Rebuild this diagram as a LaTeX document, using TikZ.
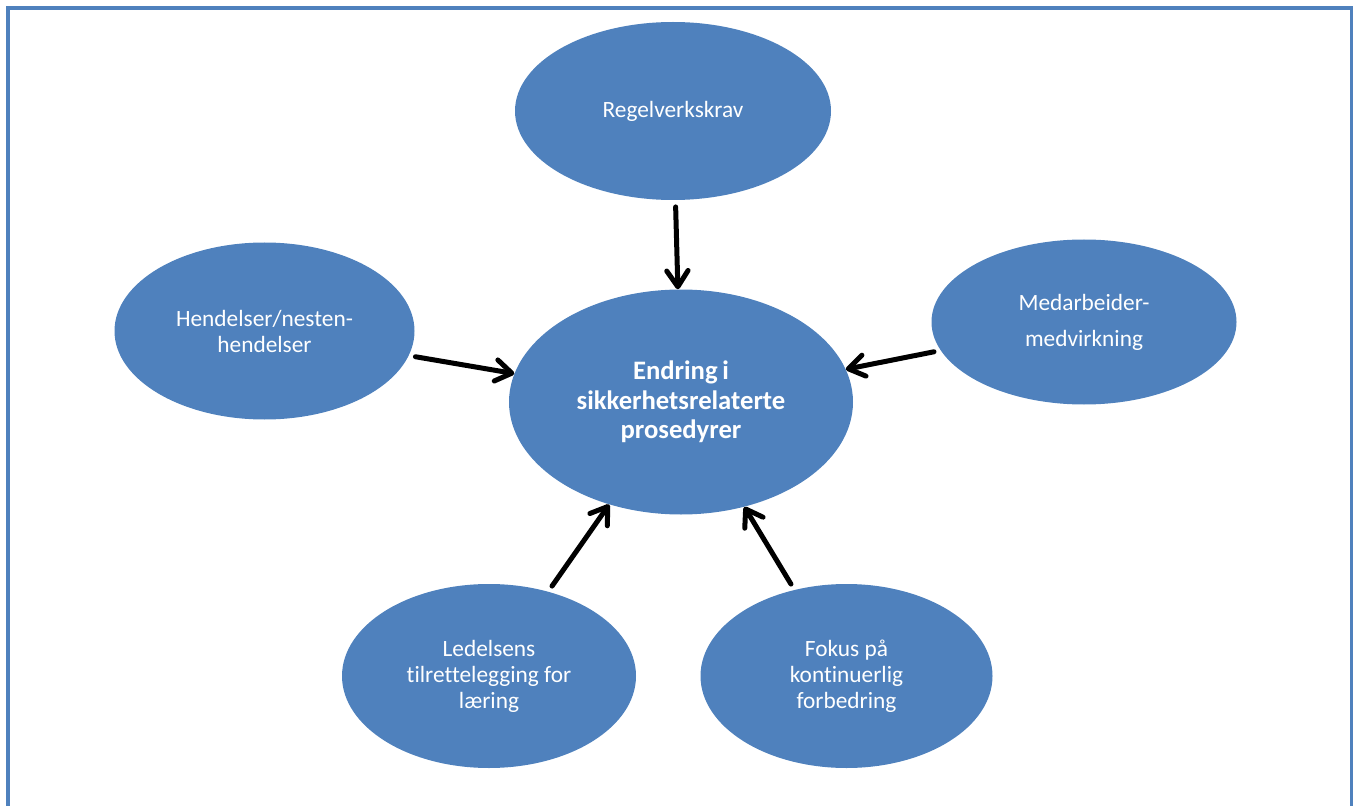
\documentclass[tikz,border=0pt]{standalone}
\usepackage{fontspec}
\setmainfont{Carlito}[Ligatures=NoCommon]
\usetikzlibrary{shapes.geometric,arrows.meta}
\definecolor{officeblue}{HTML}{4F81BD}
\tikzset{
  bubble/.style={ellipse, fill=officeblue, text=white, inner sep=0pt, align=center,
    font=\fontsize{17.5}{19.5}\selectfont},
  hub/.style={bubble, font=\fontsize{20}{22}\selectfont\bfseries},
  feed/.style={line width=3.75pt, black,
    -{Straight Barb[length=12pt,width=16pt,round]}, line cap=round,
    shorten <=5pt},
  frame/.style={draw=officeblue, line width=2.3pt}
}
\begin{document}
\begin{tikzpicture}[x=0.75pt,y=-0.75pt]
  \useasboundingbox (0,0) rectangle (1357,806);
  % page frame, open at the bottom
  \draw[frame] (8,806) -- (8,8) -- (1351.5,8) -- (1351.5,806);

  % central topic
  \node[hub, minimum width=344*0.75pt, minimum height=225*0.75pt] (ctr) at (681,402)
    {Endring\hspace{0.18em}i\\sikkerhetsrelaterte\\prosedyrer};

  % contributing factors
  \node[bubble, minimum width=316*0.75pt, minimum height=178*0.75pt] (top) at (673,111)
    {Regelverkskrav};
  \node[bubble, minimum width=300*0.75pt, minimum height=177*0.75pt] (lft) at (264.5,331)
    {Hendelser/nesten-\\hendelser};
  \node[bubble, minimum width=305*0.75pt, minimum height=165*0.75pt,
        font=\fontsize{17.5}{27}\selectfont] (rgt) at (1084,322)
    {Medarbeider-\\medvirkning};
  \node[bubble, minimum width=294*0.75pt, minimum height=184*0.75pt] (bl) at (489,676)
    {Ledelsens\\tilrettelegging for\\læring};
  \node[bubble, minimum width=292*0.75pt, minimum height=184*0.75pt] (br) at (846.5,676)
    {Fokus på\\kontinuerlig\\forbedring};

  % influences on the central topic
  \draw[feed] (top) -- (ctr);
  \draw[feed] (lft) -- (ctr);
  \draw[feed] (rgt) -- (ctr);
  \draw[feed] (bl) -- (ctr);
  \draw[feed] (br) -- (ctr);
\end{tikzpicture}
\end{document}
